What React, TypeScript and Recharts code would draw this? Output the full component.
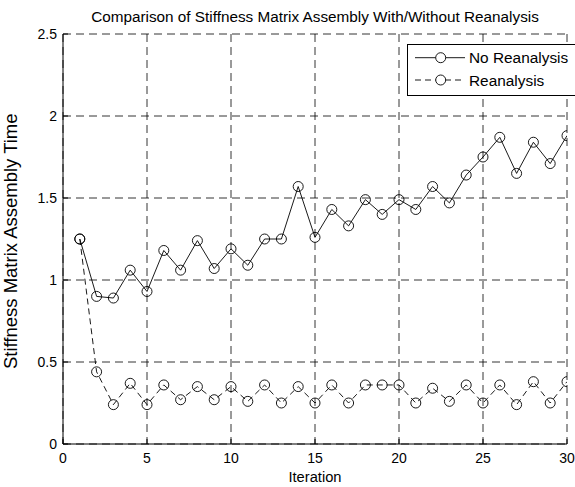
import React from 'react';
import { LineChart, Line, XAxis, YAxis, CartesianGrid } from 'recharts';

const iterations = [1,2,3,4,5,6,7,8,9,10,11,12,13,14,15,16,17,18,19,20,21,22,23,24,25,26,27,28,29,30];
const noReanalysis = [1.25,0.90,0.89,1.06,0.93,1.18,1.06,1.24,1.07,1.19,1.09,1.25,1.25,1.57,1.26,1.43,1.33,1.49,1.40,1.49,1.43,1.57,1.47,1.64,1.75,1.87,1.65,1.84,1.71,1.88];
const reanalysis = [1.25,0.44,0.24,0.37,0.24,0.36,0.27,0.35,0.27,0.35,0.26,0.36,0.25,0.35,0.25,0.36,0.25,0.36,0.36,0.36,0.25,0.34,0.26,0.36,0.25,0.36,0.24,0.38,0.25,0.38];
const xTicks = [0,5,10,15,20,25,30];
const yTicks = [0,0.5,1,1.5,2,2.5];
const yTickLabels = ['0','0.5','1','1.5','2','2.5'];
const seriesNames = ['No Reanalysis', 'Reanalysis'];
const title = 'Comparison of Stiffness Matrix Assembly With/Without Reanalysis';
const xLabel = 'Iteration';
const yLabel = 'Stiffness Matrix Assembly Time';

const data = iterations.map((x, i) => ({ x, a: noReanalysis[i], b: reanalysis[i] }));

const FONT = '"Liberation Sans", Arial, sans-serif';

const Circle = (props: any) => {
  const { cx, cy } = props;
  if (cx == null || cy == null) return null;
  return <circle cx={cx} cy={cy} r={5} fill="none" stroke="#000" strokeWidth={0.9} />;
};

const blank = () => '';

export default function App() {
  return (
    <div style={{ position: 'absolute', left: 0, top: 0, width: 575, height: 487, background: '#fff', fontFamily: FONT, overflow: 'hidden' }}>
      <div style={{ position: 'absolute', left: 15, top: 8, width: 600, textAlign: 'center', fontSize: 15.3, color: '#000', lineHeight: '17px', whiteSpace: 'nowrap' }}>{title}</div>
      <LineChart width={575} height={487} data={data} margin={{ top: 34, right: 8, bottom: 23, left: 0 }}>
        <CartesianGrid stroke="#000" strokeDasharray="8 5" strokeWidth={0.8} verticalValues={xTicks} horizontalValues={yTicks} />
        <XAxis
          dataKey="x"
          type="number"
          domain={[0, 30]}
          ticks={xTicks}
          allowDataOverflow
          height={20}
          stroke="#000"
          tickSize={-5}
          tickMargin={14}
          tick={{ fill: '#000', fontSize: 14, fontFamily: FONT }}
          axisLine={{ stroke: '#000', strokeWidth: 1 }}
          tickLine={{ stroke: '#000' }}
        />
        <XAxis
          xAxisId="top"
          orientation="top"
          dataKey="x"
          type="number"
          domain={[0, 30]}
          ticks={xTicks}
          allowDataOverflow
          height={0}
          tickSize={-5}
          tickFormatter={blank}
          axisLine={false}
          tickLine={{ stroke: '#000' }}
        />
        <YAxis
          type="number"
          domain={[0, 2.5]}
          ticks={yTicks}
          tickFormatter={(v: number) => yTickLabels[yTicks.indexOf(v)] ?? String(v)}
          allowDataOverflow
          width={63}
          stroke="#000"
          tickSize={-5}
          tickMargin={11}
          tick={{ fill: '#000', fontSize: 14, fontFamily: FONT }}
          axisLine={{ stroke: '#000', strokeWidth: 1 }}
          tickLine={{ stroke: '#000' }}
        />
        <YAxis
          yAxisId="right"
          orientation="right"
          type="number"
          domain={[0, 2.5]}
          ticks={yTicks}
          allowDataOverflow
          width={0}
          tickSize={-5}
          tickFormatter={blank}
          axisLine={false}
          tickLine={{ stroke: '#000' }}
        />
        <Line
          dataKey="a"
          name={seriesNames[0]}
          stroke="#000"
          strokeWidth={0.9}
          dot={<Circle />}
          activeDot={false}
          isAnimationActive={false}
        />
        <Line
          dataKey="b"
          name={seriesNames[1]}
          stroke="#000"
          strokeWidth={0.9}
          strokeDasharray="6 4"
          dot={<Circle />}
          activeDot={false}
          isAnimationActive={false}
        />
      </LineChart>
      <div style={{ position: 'absolute', left: 15, top: 469, width: 600, textAlign: 'center', fontSize: 14.7, color: '#000', lineHeight: '17px' }}>{xLabel}</div>
      <div style={{ position: 'absolute', left: 11, top: 241, width: 0, height: 0 }}>
        <div style={{ position: 'absolute', left: -200, top: -9.25, width: 400, textAlign: 'center', fontSize: 18.5, lineHeight: '18.5px', color: '#000', transform: 'rotate(-90deg)', whiteSpace: 'nowrap' }}>{yLabel}</div>
      </div>
      <div style={{ position: 'absolute', left: 407, top: 44, width: 180, height: 52, border: '1px solid #000', background: '#fff', boxSizing: 'border-box' }}>
        <svg width={178} height={50} style={{ position: 'absolute', left: 0, top: 0 }}>
          <line x1={7} x2={57} y1={12.7} y2={12.7} stroke="#000" strokeWidth={0.9} />
          <circle cx={32.7} cy={12.7} r={5} fill="#fff" stroke="#000" strokeWidth={0.9} />
          <line x1={7} x2={57} y1={35} y2={35} stroke="#000" strokeWidth={0.9} strokeDasharray="6 4" />
          <circle cx={32.7} cy={35} r={5} fill="#fff" stroke="#000" strokeWidth={0.9} />
          <text x={61} y={18.2} fontSize={15.4} fontFamily={FONT} fill="#000">{seriesNames[0]}</text>
          <text x={61} y={40.5} fontSize={15.4} fontFamily={FONT} fill="#000">{seriesNames[1]}</text>
        </svg>
      </div>
    </div>
  );
}
